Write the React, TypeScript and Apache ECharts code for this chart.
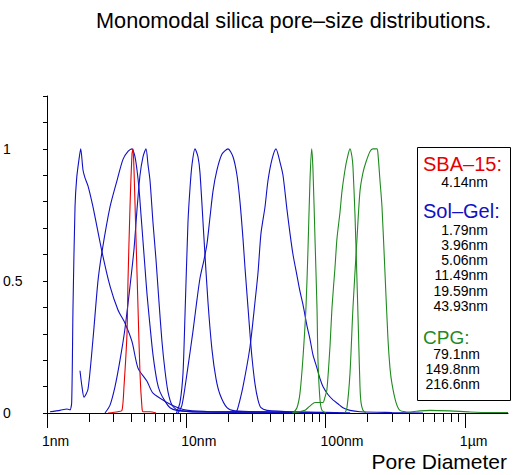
import React, { useEffect, useRef } from 'react';
import * as echarts from 'echarts';

const FONT = '"Liberation Sans", Arial, Helvetica, sans-serif';

// axis ticks (nm)
const xMajorTicks = [1, 10, 100, 1000];
const xTickLabels = ['1nm', '10nm', '100nm', '1µm'];
const xMinorTicks = [2, 3, 4, 5, 6, 7, 8, 9, 20, 30, 40, 50, 60, 70, 80, 90, 200, 300, 400, 500, 600, 700, 800, 900];
const xMaxNm = 2040;
const yTickLabels = [0, 0.5, 1];

// legend texts
const sbaSizes = ['4.14nm'];
const solGelSizes = ['1.79nm', '3.96nm', '5.06nm', '11.49nm', '19.59nm', '43.93nm'];
const cpgSizes = ['79.1nm', '149.8nm', '216.6nm'];

// curves: [pore diameter nm, normalised value]
const sba414 = [[2.741, 0], [3.234, 0.005], [3.454, 0.01], [3.571, 0.1], [3.752, 0.3], [3.815, 0.5], [3.944, 0.78], [4.077, 0.98], [4.144, 1.0], [4.213, 0.92], [4.355, 0.66], [4.501, 0.4], [4.652, 0.15], [4.808, 0.02], [4.889, 0.005], [5.489, 0.005], [6.062, 0]];

const sg179 = [[1.051, 0.005], [1.24, 0.01], [1.392, 0.015], [1.463, 0.012], [1.504, 0.04], [1.537, 0.4], [1.589, 0.78], [1.634, 0.89], [1.697, 0.96], [1.746, 1.0], [1.813, 0.92], [1.874, 0.89], [1.969, 0.86], [2.139, 0.78], [2.482, 0.61], [2.834, 0.48], [3.234, 0.39], [3.63, 0.34], [4.077, 0.27], [4.501, 0.17], [5.224, 0.12], [5.768, 0.075], [7.269, 0.04], [8.719, 0.02], [10.28, 0.01], [15, 0.005], [30, 0.004], [60, 0.003], [120, 0]];
const sg396 = [[1.725, 0.16], [1.783, 0.1], [1.844, 0.06], [1.969, 0.09], [2.139, 0.28], [2.323, 0.5], [2.482, 0.61], [2.834, 0.78], [3.181, 0.88], [3.512, 0.96], [3.815, 0.99], [4.077, 1.0], [4.283, 0.97], [4.427, 0.92], [4.576, 0.85], [4.73, 0.75], [4.889, 0.65], [5.053, 0.55], [5.224, 0.45], [5.489, 0.33], [5.768, 0.22], [6.163, 0.12], [6.474, 0.08], [7.033, 0.045], [7.638, 0.02], [8.575, 0.01], [12, 0.004], [30, 0.003], [60, 0]];
const sg506 = [[2.609, 0], [2.834, 0.03], [3.078, 0.1], [3.343, 0.2], [3.63, 0.32], [3.944, 0.48], [4.213, 0.62], [4.427, 0.77], [4.652, 0.9], [4.889, 0.97], [5.137, 1.0], [5.311, 0.94], [5.489, 0.88], [5.768, 0.72], [6.062, 0.58], [6.368, 0.42], [6.692, 0.27], [7.033, 0.16], [7.39, 0.08], [7.895, 0.03], [8.719, 0.01], [12.54, 0.004], [40, 0.003], [80, 0]];
const sg1149 = [[8.5, 0], [9.012, 0.04], [9.469, 0.15], [9.788, 0.37], [10.28, 0.72], [10.63, 0.85], [10.99, 0.94], [11.55, 1.0], [12.13, 0.97], [12.54, 0.91], [13.4, 0.66], [14.31, 0.42], [15.29, 0.24], [16.34, 0.13], [17.46, 0.07], [19.6, 0.02], [22.37, 0.008], [40, 0.004], [100, 0.003], [150, 0]];
const sg1959 = [[8.719, 0], [9.314, 0.03], [10.12, 0.15], [11.17, 0.31], [11.94, 0.43], [12.54, 0.51], [13.4, 0.58], [14.08, 0.64], [14.79, 0.74], [15.55, 0.84], [16.61, 0.92], [18.05, 0.98], [19.93, 1.0], [21.64, 0.97], [23.12, 0.9], [24.29, 0.8], [25.53, 0.66], [26.39, 0.55], [27.73, 0.4], [28.66, 0.3], [29.62, 0.21], [31.13, 0.11], [32.71, 0.05], [34.37, 0.02], [37.96, 0.01], [60, 0.004], [150, 0]];
const sg4393 = [[22.75, 0], [23.5, 0.02], [25.53, 0.1], [28.66, 0.25], [31.13, 0.42], [32.71, 0.53], [34.37, 0.68], [36.73, 0.78], [38.6, 0.88], [41.23, 0.96], [44.05, 1.0], [47.05, 0.95], [49.45, 0.9], [52.83, 0.77], [55.52, 0.68], [58.34, 0.6], [62.33, 0.52], [65.5, 0.46], [68.83, 0.41], [73.54, 0.33], [77.27, 0.28], [81.2, 0.22], [86.75, 0.17], [91.18, 0.13], [95.79, 0.1], [104, 0.07], [113, 0.05], [122.7, 0.035], [133.3, 0.02], [149.7, 0.01], [176.6, 0.005], [300, 0.002], [500, 0]];

const cpg791 = [[58.34, 0], [62.33, 0.02], [65.5, 0.075], [68.83, 0.21], [72.33, 0.4], [74.77, 0.62], [77.27, 0.88], [79.47, 1.0], [81.2, 0.92], [83.94, 0.66], [86.75, 0.4], [88.19, 0.2], [91.18, 0.05], [94.24, 0.01], [100.7, 0]];
const cpg1498 = [[57.39, 0], [65.5, 0.005], [71.14, 0.01], [74.77, 0.02], [78.56, 0.03], [83.94, 0.04], [91.18, 0.04], [95.79, 0.04], [99, 0.06], [102.3, 0.09], [107.5, 0.25], [111.2, 0.4], [116.8, 0.55], [120.7, 0.66], [126.9, 0.76], [131.2, 0.84], [137.8, 0.92], [142.4, 0.96], [149.7, 1.0], [154.7, 0.97], [157.3, 0.93], [162.6, 0.75], [168.1, 0.5], [172.3, 0.3], [176.6, 0.1], [179.6, 0.04], [185.6, 0.01], [195, 0]];
const cpg2166 = [[137.8, 0], [142.4, 0.02], [149.7, 0.15], [157.3, 0.4], [168.1, 0.66], [176.6, 0.84], [185.6, 0.91], [195, 0.95], [208.4, 0.99], [218.9, 1.0], [233.9, 1.0], [237.8, 0.98], [245.8, 0.88], [254.1, 0.78], [267, 0.53], [280.5, 0.28], [290, 0.17], [299.8, 0.11], [320.2, 0.04], [342, 0.01], [403.6, 0.004], [476, 0.008], [561.6, 0.01], [781.8, 0.008], [1088, 0.004], [1514, 0.002], [2040, 0.002]];

const BLUE = '#1010c4';
const RED = '#e60000';
const GREEN = '#1f8a1f';

const blueCurves = [sg179, sg396, sg506, sg1149, sg1959, sg4393];
const redCurves = [sba414];
const greenCurves = [cpg791, cpg1498, cpg2166];

const toLog = (c: number[][]) => c.map(([d, v]) => [Math.log10(d), v]);

function makeSeries(curves: number[][][], color: string, name: string) {
  return curves.map((c, i) => ({
    type: 'line',
    name: name + i,
    data: toLog(c),
    showSymbol: false,
    symbol: 'none',
    smooth: 0.25,
    lineStyle: { color, width: 1.1 },
    emphasis: { disabled: true },
    silent: true,
  }));
}

function legendTexts() {
  const els: any[] = [];
  const txt = (text: string, x: number, y: number, size: number, color: string, align: string) => ({
    type: 'text',
    z: 101,
    style: {
      text, x, y,
      font: `${size}px ${FONT}`,
      fill: color,
      align, textAlign: align,
      verticalAlign: 'middle', textVerticalAlign: 'middle',
    },
  });
  els.push({
    type: 'rect', z: 100,
    shape: { x: 417.5, y: 147.5, width: 93, height: 253 },
    style: { fill: '#fff', stroke: '#000', lineWidth: 1 },
  });
  els.push(txt('SBA–15:', 423, 164, 20, RED, 'left'));
  sbaSizes.forEach((s, i) => els.push(txt(s, 488, 182 + i * 15.4, 14, '#000', 'right')));
  els.push(txt('Sol–Gel:', 423, 211, 20, BLUE, 'left'));
  solGelSizes.forEach((s, i) => els.push(txt(s, 488, 229.5 + i * 15.3, 14, '#000', 'right')));
  els.push(txt('CPG:', 423, 337.5, 19, GREEN, 'left'));
  cpgSizes.forEach((s, i) => els.push(txt(s, 480, 354 + i * 15.2, 14, '#000', 'right')));
  els.push(txt('Pore Diameter', 507, 461, 21, '#000', 'right'));
  return els;
}

export default function App() {
  const ref = useRef<HTMLDivElement>(null);
  useEffect(() => {
    if (!ref.current) return;
    const chart = echarts.init(ref.current, null, { renderer: 'svg' });
    const xMax = Math.log10(xMaxNm);
    const majorVals = xMajorTicks.map((v) => Math.log10(v));
    const minorVals = xMinorTicks.map((v) => Math.log10(v));
    chart.setOption({
      animation: false,
      backgroundColor: '#fff',
      title: {
        text: 'Monomodal silica pore–size distributions.',
        left: 96,
        top: 9,
        padding: 0,
        textStyle: { fontFamily: FONT, fontSize: 21.7, fontWeight: 'normal', color: '#000' },
      },
      grid: { left: 47, right: 13, top: 96, bottom: 62, containLabel: false, outerBoundsMode: 'none' },
      xAxis: [
        {
          type: 'value',
          min: 0,
          max: xMax,
          position: 'bottom',
          axisLine: { show: true, onZero: false, lineStyle: { color: '#000', width: 1 } },
          axisTick: { show: true, customValues: majorVals, length: 15, lineStyle: { color: '#000', width: 1 } },
          axisLabel: {
            customValues: majorVals,
            formatter: (v: number) => {
              const i = majorVals.findIndex((m) => Math.abs(m - v) < 1e-6);
              return i >= 0 ? xTickLabels[i] : '';
            },
            align: 'left',
            padding: [0, 0, 0, -5],
            margin: 21,
            fontSize: 14,
            fontFamily: FONT,
            color: '#000',
          },
          splitLine: { show: false },
        },
        {
          type: 'value',
          min: 0,
          max: xMax,
          position: 'bottom',
          axisLine: { show: false },
          axisTick: { show: true, customValues: minorVals, length: 9, lineStyle: { color: '#000', width: 1 } },
          axisLabel: { show: false },
          splitLine: { show: false },
        },
      ],
      yAxis: {
        type: 'value',
        min: 0,
        max: 1.2,
        interval: 0.1,
        axisLine: { show: true, onZero: false, lineStyle: { color: '#000', width: 1 } },
        axisTick: { show: true, inside: false, length: 4, lineStyle: { color: '#000', width: 1 } },
        axisLabel: {
          customValues: yTickLabels,
          formatter: (v: number) => String(v),
          align: 'left',
          margin: 44,
          fontSize: 14,
          fontFamily: FONT,
          color: '#000',
        },
        splitLine: { show: false },
      },
      series: [
        ...makeSeries(blueCurves, BLUE, 'solgel'),
        ...makeSeries(redCurves, RED, 'sba'),
        ...makeSeries(greenCurves, GREEN, 'cpg'),
      ],
      graphic: legendTexts(),
    });
    return () => chart.dispose();
  }, []);
  return (
    <div
      ref={ref}
      style={{ position: 'fixed', left: 0, top: 0, width: 521, height: 475, background: '#fff' }}
    />
  );
}
